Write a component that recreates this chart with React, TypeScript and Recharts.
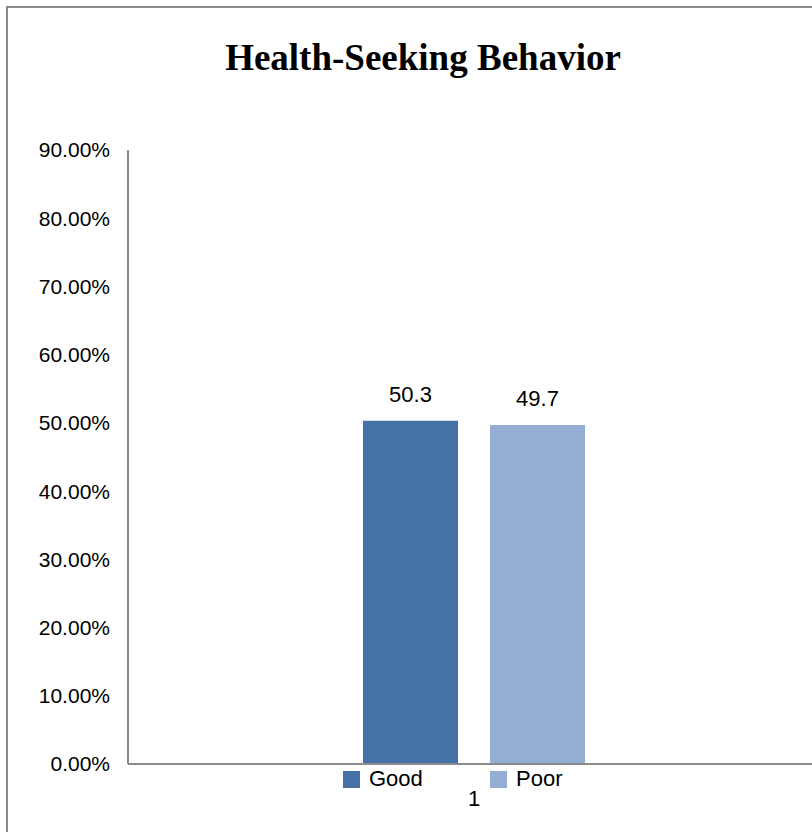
import { Bar, BarChart, LabelList, Legend, XAxis, YAxis } from 'recharts'

const categories = ['1']
const goodValues = [50.3]
const poorValues = [49.7]
const yTicks = [0, 10, 20, 30, 40, 50, 60, 70, 80, 90]

const GOOD_COLOR = '#4571a7'
const POOR_COLOR = '#94add2'
const AXIS_COLOR = '#8a8a8a'
const SANS = '"Liberation Sans", Arial, sans-serif'

const data = categories.map((category, i) => ({
  category,
  Good: goodValues[i],
  Poor: poorValues[i],
}))

type LegendItem = { value?: string; color?: string }

function LegendContent({ payload }: { payload?: LegendItem[] }) {
  return (
    <div style={{ display: 'flex', fontFamily: SANS, fontSize: 22, color: '#000' }}>
      {(payload ?? []).map((item) => (
        <div key={item.value} style={{ width: 147, height: 22, display: 'flex', alignItems: 'center' }}>
          <span style={{ width: 17, height: 17, background: item.color, marginRight: 9, display: 'inline-block' }} />
          <span>{item.value}</span>
        </div>
      ))}
    </div>
  )
}

export default function App() {
  return (
    <div
      style={{
        position: 'fixed',
        left: 0,
        top: 0,
        width: 812,
        height: 832,
        overflow: 'hidden',
        background: '#fff',
      }}
    >
      <div
        style={{
          position: 'absolute',
          left: 6,
          top: 6,
          width: 900,
          height: 900,
          border: `2px solid ${AXIS_COLOR}`,
        }}
      />
      <div
        style={{
          position: 'absolute',
          left: 0,
          top: 39,
          width: 846,
          textAlign: 'center',
          fontFamily: '"Liberation Serif", "Times New Roman", serif',
          fontWeight: 'bold',
          fontSize: 37,
          lineHeight: 1,
          color: '#000',
        }}
      >
        Health-Seeking Behavior
      </div>
      <div style={{ position: 'absolute', left: 0, top: 0 }}>
        <BarChart
          width={830}
          height={832}
          data={data}
          margin={{ top: 150, right: 10, bottom: 28, left: 0 }}
          barSize={95}
          barGap={32}
        >
          <XAxis
            dataKey="category"
            height={40}
            axisLine={{ stroke: AXIS_COLOR, strokeWidth: 2 }}
            tickLine={false}
            tickSize={0}
            tickMargin={26}
            tick={{ fontFamily: SANS, fontSize: 22, fill: '#000' }}
          />
          <YAxis
            width={128}
            domain={[0, 90]}
            ticks={yTicks}
            interval={0}
            axisLine={{ stroke: AXIS_COLOR, strokeWidth: 2 }}
            tickLine={false}
            tickSize={0}
            tickMargin={18}
            tickFormatter={(v: number) => `${v.toFixed(2)}%`}
            tick={{ fontFamily: SANS, fontSize: 21, fill: '#000' }}
          />
          <Legend
            layout="horizontal"
            verticalAlign="middle"
            align="center"
            wrapperStyle={{ left: 343, top: 768, width: 300 }}
            content={(props) => <LegendContent payload={props.payload as LegendItem[]} />}
          />
          <Bar dataKey="Good" fill={GOOD_COLOR} isAnimationActive={false}>
            <LabelList dataKey="Good" position="top" offset={19} fill="#000" fontFamily={SANS} fontSize={22} />
          </Bar>
          <Bar dataKey="Poor" fill={POOR_COLOR} isAnimationActive={false}>
            <LabelList dataKey="Poor" position="top" offset={19} fill="#000" fontFamily={SANS} fontSize={22} />
          </Bar>
        </BarChart>
      </div>
    </div>
  )
}
